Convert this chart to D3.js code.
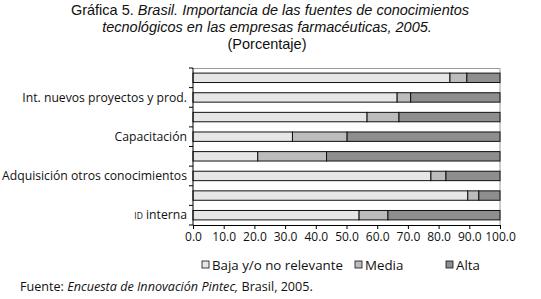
<!DOCTYPE html>
<html lang="es">
<head>
<meta charset="UTF-8">
<title>Gráfica 5</title>
<script src="https://d3js.org/d3.v7.min.js"></script>
<style>
  body { margin: 0; background: #fff; }
  text { font-family: "Open Sans", "Noto Sans", sans-serif; fill: #111; }
  text.title { font-family: "Liberation Sans", Arial, sans-serif; }
</style>
</head>
<body>
<svg id="chart" width="541" height="299"></svg>
<script>
// 8 bars, only every second one carries a visible label in the original
const labels = ["", "Int. nuevos proyectos y prod.", "", "Capacitación", "", "Adquisición otros conocimientos", "", "ID interna"];
const series = ["Baja y/o no relevante", "Media", "Alta"];
const baja  = [83.7, 66.5, 56.7, 32.4, 21.1, 77.5, 89.5, 54.1];
const media = [5.5, 4.4, 10.4, 17.8, 22.4, 4.9, 3.6, 9.4];
const alta  = [10.8, 29.1, 32.9, 49.8, 56.5, 17.6, 6.9, 36.5];
const xTicks = [0, 10, 20, 30, 40, 50, 60, 70, 80, 90, 100];
const colors = ["#e6e6e6", "#bcbcbc", "#8e8e8e"];

const svg = d3.select("#chart");
const margin = {left: 193, right: 41, top: 68, bottom: 74};
const width = 541 - margin.left - margin.right;
const height = 299 - margin.top - margin.bottom;

// title, three separate lines
const titleLines = [
  [["Gráfica 5.  ", "normal"], ["Brasil. Importancia de las fuentes de conocimientos", "italic"]],
  [["tecnológicos en las empresas farmacéuticas, 2005.", "italic"]],
  [["(Porcentaje)", "normal"]]
];
const titleY = [15, 32, 49];
titleLines.forEach((parts, li) => {
  const t = svg.append("text")
    .attr("class", "title")
    .attr("x", li === 0 ? 270 : 267)
    .attr("y", titleY[li])
    .attr("text-anchor", "middle")
    .style("font-size", "14.5px");
  parts.forEach(p => t.append("tspan").style("font-style", p[1]).text(p[0]));
});

const rows = labels.map((l, i) => ({i, label: l, vals: [baja[i], media[i], alta[i]]}));

const x = d3.scaleLinear().domain([0, 100]).range([0, width]);
const y = d3.scaleBand().domain(d3.range(labels.length)).range([0, height]).paddingInner(0.52).paddingOuter(0.26);

const g = svg.append("g").attr("transform", `translate(${margin.left},${margin.top})`);

// plot area frame (top and right in gray)
g.append("path")
  .attr("d", `M0,0.5H${x(100)}V${height}`)
  .attr("fill", "none").attr("stroke", "#999").attr("stroke-width", 1);

const stack = d3.stack().keys([0, 1, 2]).value((d, k) => d.vals[k])(rows);

g.selectAll("g.layer")
  .data(stack)
  .join("g")
    .attr("class", "layer")
    .attr("fill", (d, k) => colors[k])
  .selectAll("rect")
  .data(d => d)
  .join("rect")
    .attr("x", d => x(d[0]))
    .attr("y", d => y(d.data.i))
    .attr("width", d => x(d[1]) - x(d[0]))
    .attr("height", y.bandwidth())
    .attr("stroke", "#111")
    .attr("stroke-width", 1);

// y axis with ticks at band boundaries
const yAxis = g.append("g");
yAxis.append("line").attr("x1", 0).attr("x2", 0).attr("y1", 0).attr("y2", height)
  .attr("stroke", "#000");
yAxis.selectAll("line.tk")
  .data(d3.range(labels.length + 1))
  .join("line")
    .attr("class", "tk")
    .attr("x1", -4).attr("x2", 0)
    .attr("y1", i => i * y.step()).attr("y2", i => i * y.step())
    .attr("stroke", "#000");
const yl = yAxis.selectAll("text.lbl")
  .data(rows.filter(d => d.label))
  .join("text")
    .attr("class", "lbl")
    .attr("x", -6)
    .attr("y", d => y(d.i) + y.bandwidth() / 2)
    .attr("dy", "0.35em")
    .attr("text-anchor", "end")
    .style("font-size", "12.2px");
yl.each(function(d) {
  const t = d3.select(this);
  if (d.label.startsWith("ID ")) {
    t.append("tspan").style("font-size", "8.5px").text("ID");
    t.append("tspan").text(" " + d.label.slice(3));
  } else {
    t.text(d.label);
  }
});

// x axis
const xAxis = g.append("g")
  .attr("transform", `translate(0,${height})`)
  .call(d3.axisBottom(x).tickValues(xTicks).tickFormat(d3.format(".1f")).tickSize(4).tickSizeOuter(0));
xAxis.select(".domain").attr("stroke", "#000");
xAxis.selectAll("line").attr("stroke", "#000");
xAxis.selectAll("text").attr("y", 7).style("font-size", "12px").attr("fill", "#111");

// legend
const legX = [202, 355, 446];
const leg = svg.append("g").attr("transform", "translate(0,265)");
series.forEach((s, k) => {
  leg.append("rect").attr("x", legX[k]).attr("y", -4).attr("width", 7).attr("height", 7)
    .attr("fill", colors[k]).attr("stroke", "#111").attr("stroke-width", 0.8);
  leg.append("text").attr("x", legX[k] + 10).attr("y", 0).attr("dy", "0.35em")
    .style("font-size", "13.3px").text(s);
});

// source
const src = svg.append("text").attr("x", 20).attr("y", 291).style("font-size", "12.6px");
src.append("tspan").text("Fuente: ");
src.append("tspan").style("font-style", "italic").text("Encuesta de Innovación Pintec,");
src.append("tspan").text(" Brasil, 2005.");
</script>
</body>
</html>
